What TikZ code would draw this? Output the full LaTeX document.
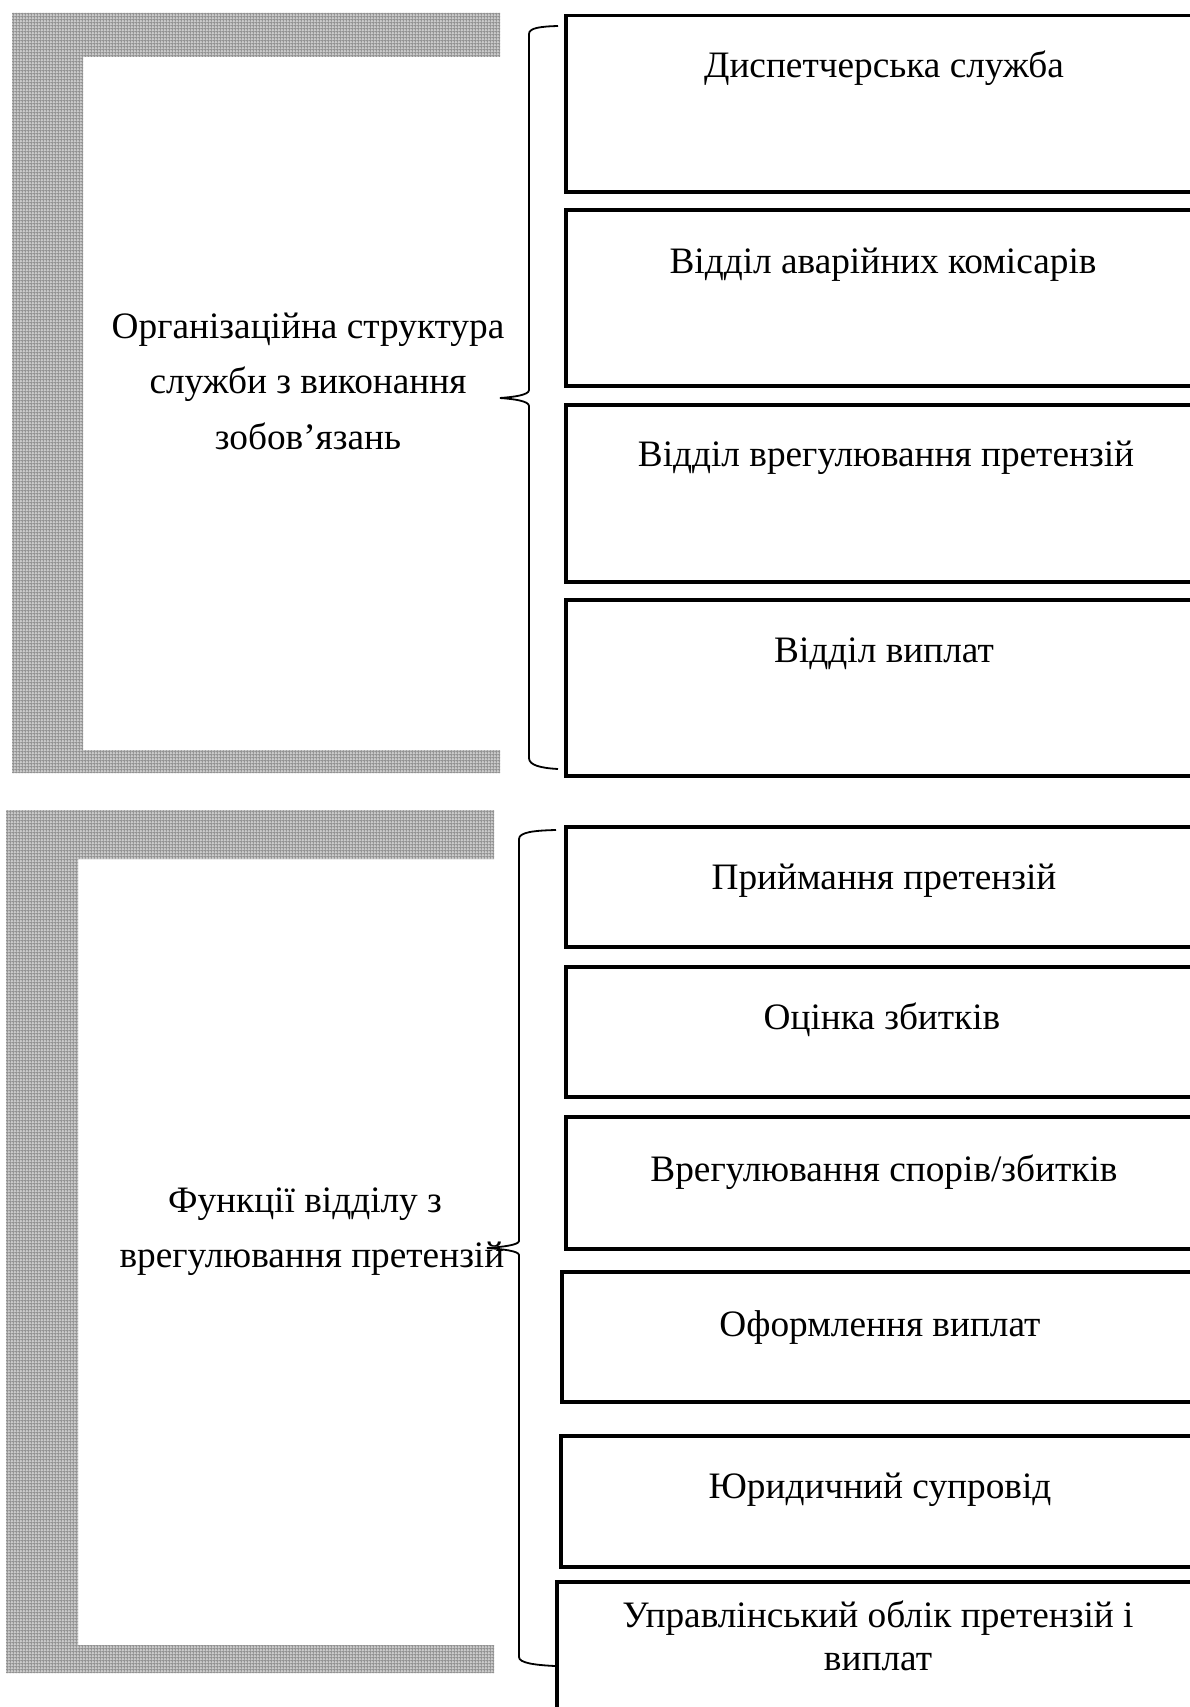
\documentclass[tikz,border=0pt]{standalone}
\usepackage{fontspec}
\setmainfont{Liberation Serif}
\usetikzlibrary{patterns.meta}

% fine grey grid used to fill the bracket-shaped frames
\tikzdeclarepattern{
  name=finegrid,
  type=uncolored,
  bounding box={(0pt,0pt) and (3.3pt,3.3pt)},
  tile size={(3.3pt,3.3pt)},
  code={
    \draw[line width=1.1pt] (0pt,1.65pt) -- (3.3pt,1.65pt);
    \draw[line width=1.1pt] (1.65pt,0pt) -- (1.65pt,3.3pt);
  }
}

\begin{document}
\begin{tikzpicture}[x=1pt,y=-1pt,
  box/.style={draw=black, line width=3.3pt, inner sep=0pt, outer sep=0pt, anchor=north west, minimum width=660pt},
  txt/.style={font=\fontsize{37.3}{43}\selectfont, anchor=base, inner sep=0pt},
  brace/.style={draw=black, line width=1.8pt},
  frame/.style={fill=gray!40, postaction={pattern={finegrid}, pattern color=gray!85}}]
\path[use as bounding box, clip] (0,0) rectangle (1190,1707);
\fill[white] (0,0) rectangle (1190,1707);

% ---------- upper block: organisational structure ----------
\path[frame] (12,13) -- (500,13) -- (500,57) -- (83,57) -- (83,750)
  -- (500,750) -- (500,773) -- (12,773) -- cycle;

\node[txt] (org1) at (308,338) {Організаційна структура};
\node[txt] (org2) at (308,393) {служби з виконання};
\node[txt] (org3) at (308,449) {зобов’язань};

\draw[brace] (558,26) .. controls (540,26.5) and (529,28) .. (529,34)
  -- (529,390) .. controls (529,395) and (514,397) .. (500,398)
  .. controls (514,399) and (529,401) .. (529,406)
  -- (529,758) .. controls (529,765) and (540,768) .. (558,769);

\node[box, minimum height=176.5pt] (s1) at (566,15.5) {};
\node[box, minimum height=176pt]   (s2) at (566,210) {};
\node[box, minimum height=177pt]   (s3) at (566,405) {};
\node[box, minimum height=176pt]   (s4) at (566,600) {};

\node[txt] (s1t) at (884,78)  {Диспетчерська служба};
\node[txt] (s2t) at (883,273) {Відділ аварійних комісарів};
\node[txt] (s3t) at (886,466) {Відділ врегулювання претензій};
\node[txt] (s4t) at (884,662) {Відділ виплат};

% ---------- lower block: functions of the claims department ----------
\path[frame] (6,810) -- (494,810) -- (494,859) -- (78,859) -- (78,1645)
  -- (494,1645) -- (494,1673) -- (6,1673) -- cycle;

\node[txt] (fn1) at (305,1212) {Функції відділу з};
\node[txt] (fn2) at (312,1267) {врегулювання претензій};

\draw[brace] (556,830) .. controls (535,830.5) and (519,832) .. (519,839)
  -- (519,1241) .. controls (519,1245) and (502,1247) .. (487,1248)
  .. controls (502,1249) and (519,1251) .. (519,1255)
  -- (519,1657) .. controls (519,1663) and (535,1665) .. (555,1666);

\node[box, minimum height=120pt] (f1) at (566,827)  {};
\node[box, minimum height=130pt] (f2) at (566,967)  {};
\node[box, minimum height=132pt] (f3) at (566,1117) {};
\node[box, minimum height=130pt] (f4) at (562,1272) {};
\node[box, minimum height=131pt] (f5) at (561,1436) {};
\node[box, minimum height=160pt] (f6) at (557,1582) {};

\node[txt] (f1t) at (884,889)  {Приймання претензій};
\node[txt] (f2t) at (882,1029) {Оцінка збитків};
\node[txt] (f3t) at (884,1181) {Врегулювання спорів/збитків};
\node[txt] (f4t) at (880,1336) {Оформлення виплат};
\node[txt] (f5t) at (880,1498) {Юридичний супровід};
\node[txt] (f6t) at (878,1627) {Управлінський облік претензій і};
\node[txt] (f6u) at (878,1670) {виплат};
\end{tikzpicture}
\end{document}
